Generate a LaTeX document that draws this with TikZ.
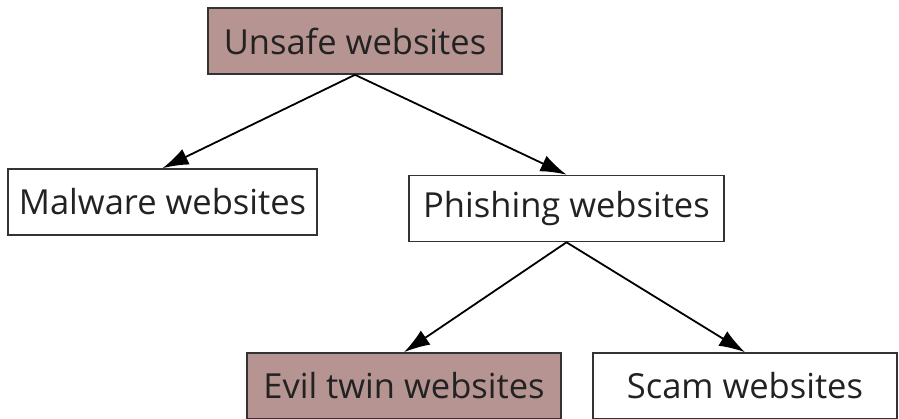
\documentclass[tikz,border=0pt]{standalone}
\usepackage{fontspec}
\setmainfont{Open Sans}
\usetikzlibrary{arrows.meta,positioning}

\definecolor{unsafefill}{RGB}{182,148,146}
\definecolor{labeltext}{RGB}{34,34,34}

\begin{document}
\begin{tikzpicture}[x=1pt,y=-1pt,>={Latex[length=26pt,width=17pt]},
  site/.style={draw=black!80,line width=1.6pt,fill=white,text=labeltext,
    minimum height=66pt,inner xsep=0pt,font=\fontsize{34.5}{42}\selectfont},
  danger/.style={site,fill=unsafefill},
  link/.style={->,line width=1.8pt}]
\useasboundingbox (0,0) rectangle (899,419);

% category tree
\node[danger,minimum width=294pt] (unsafe) at (355,41) {Unsafe websites};
\node[site,minimum width=309pt] (malware) at (162.5,202) {Malware websites};
\node[site,minimum width=315pt] (phishing) at (566.5,208.5) {Phishing websites};
\node[danger,minimum width=314pt] (eviltwin) at (404,386) {Evil twin websites};
\node[site,minimum width=304pt] (scam) at (745,386) {Scam websites};

% arrows from parent to child
\draw[link] (unsafe.south) -- (malware.north);
\draw[link] (unsafe.south) -- (phishing.north);
\draw[link] (phishing.south) -- (eviltwin.north);
\draw[link] (phishing.south) -- (scam.north);
\end{tikzpicture}
\end{document}
